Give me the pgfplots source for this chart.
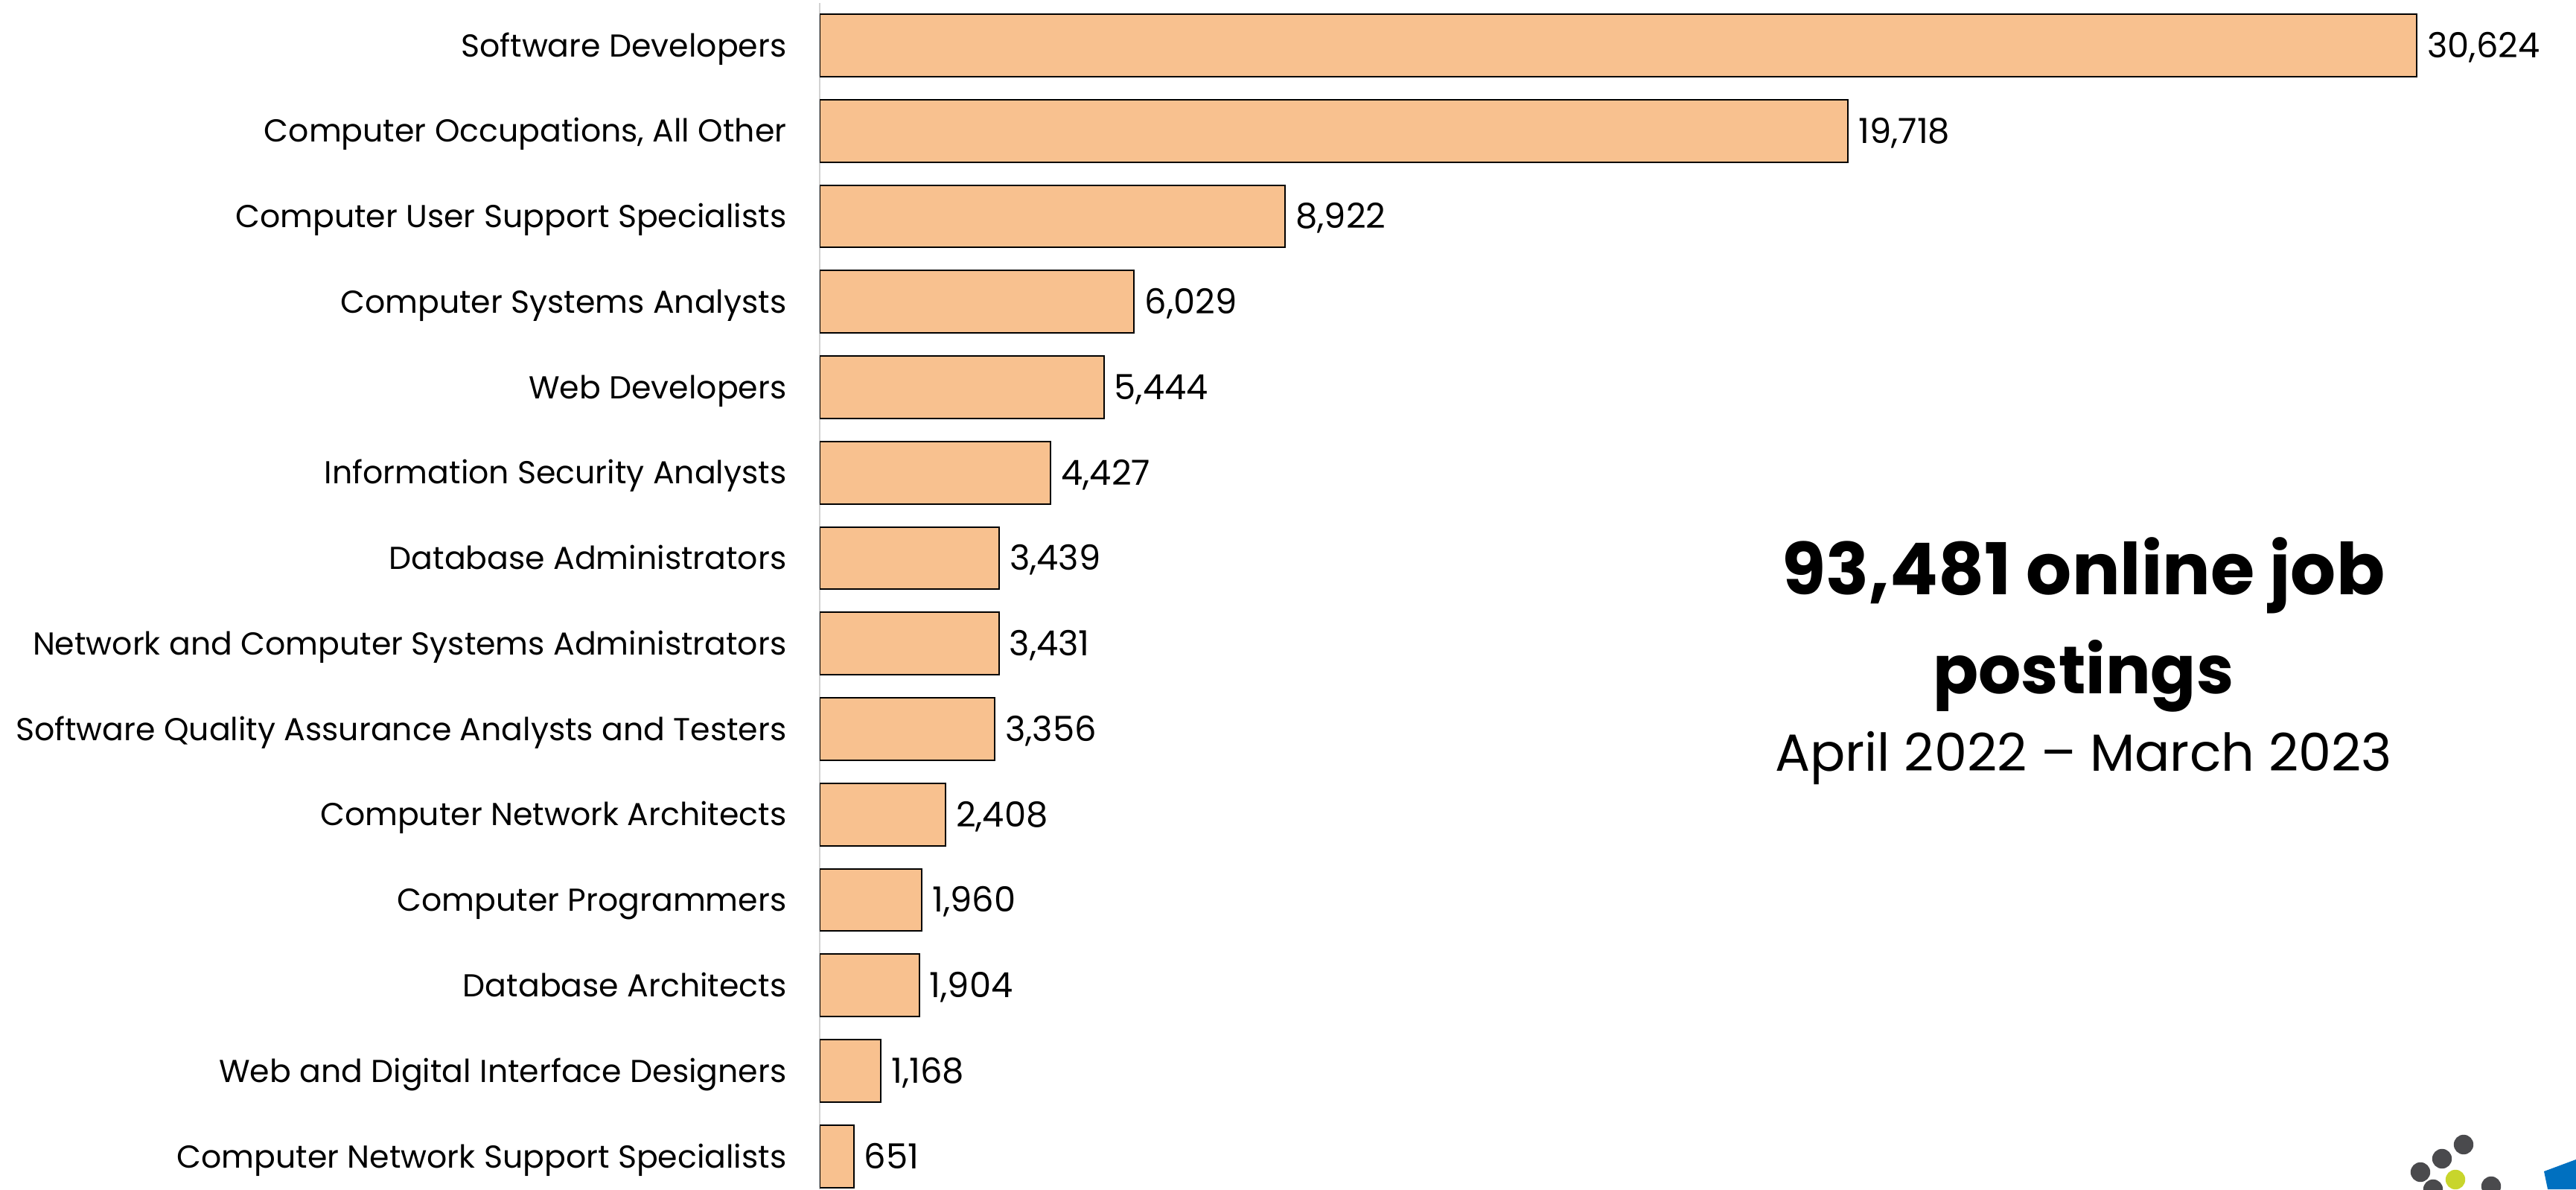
\documentclass[border=0pt]{standalone}
\usepackage{fontspec}
\setmainfont{Poppins}
\usepackage{pgfplots}
\pgfplotsset{compat=1.18}
\definecolor{barfill}{RGB}{248,193,143}
\definecolor{logogray}{RGB}{74,74,77}
\definecolor{logogreen}{RGB}{200,213,44}
\definecolor{logoblue}{RGB}{0,112,192}
\begin{document}
\begin{tikzpicture}[x=1pt,y=1pt]
\path[use as bounding box] (0,0) rectangle (865,399.25);
\begin{axis}[
  at={(275.3pt,0pt)}, anchor=south west,
  scale only axis, width=589.7pt, height=398.35pt,
  xmin=0, xmax=33676, ymin=-0.385, ymax=13.5,
  xbar, bar width=20.96pt, bar shift=0pt,
  axis x line=none, axis y line*=left,
  y axis line style={gray!35, line width=0.6pt, -},
  ytick={0,...,13},
  yticklabels={Computer Network Support Specialists, Web and Digital Interface Designers, Database Architects, Computer Programmers, Computer Network Architects, Software Quality Assurance Analysts and Testers, Network and Computer Systems Administrators, Database Administrators, Information Security Analysts, Web Developers, Computer Systems Analysts, Computer User Support Specialists, {Computer Occupations, All Other}, Software Developers},
  major tick length=0pt,
  yticklabel style={font=\fontsize{10.65}{12}\selectfont, anchor=base east, inner sep=0pt, xshift=-11pt, yshift=-3.8pt},
  nodes near coords,
  every node near coord/.append style={font=\fontsize{11.6}{13}\selectfont, anchor=base west, inner sep=0pt, xshift=3.3pt, yshift=-4.1pt, black},
  /pgf/number format/fixed, /pgf/number format/precision=0,
  /pgf/number format/1000 sep={,}, /pgf/number format/assume math mode=true,
]
\addplot[fill=barfill, draw=black, line width=0.5pt] coordinates {
(651,0) (1168,1) (1904,2) (1960,3) (2408,4) (3356,5) (3431,6) (3439,7) (4427,8) (5444,9) (6029,10) (8922,11) (19718,12) (30624,13)};
\end{axis}
\node[anchor=base, font=\bfseries\fontsize{24}{27}\selectfont] at (699.6,199.5) {93,481 online job};
\node[anchor=base, font=\bfseries\fontsize{22.5}{27}\selectfont] at (699.6,166.4) {postings};
\node[anchor=base, font=\fontsize{17.5}{20}\selectfont] at (699.6,140.4) {April 2022 – March 2023};
\fill[logogray] (827.25,15.0) circle (3.3) (820,10.25) circle (3.3) (812.75,5.75) circle (3.3) (836.5,1.0) circle (3.3) (817,0) circle (3.3);
\fill[logogreen] (824.5,3.25) circle (3.3);
\fill[logoblue] (854.25,6.0) -- (865,10.0) -- (865,0) -- (855.5,0) -- cycle;
\end{tikzpicture}
\end{document}
